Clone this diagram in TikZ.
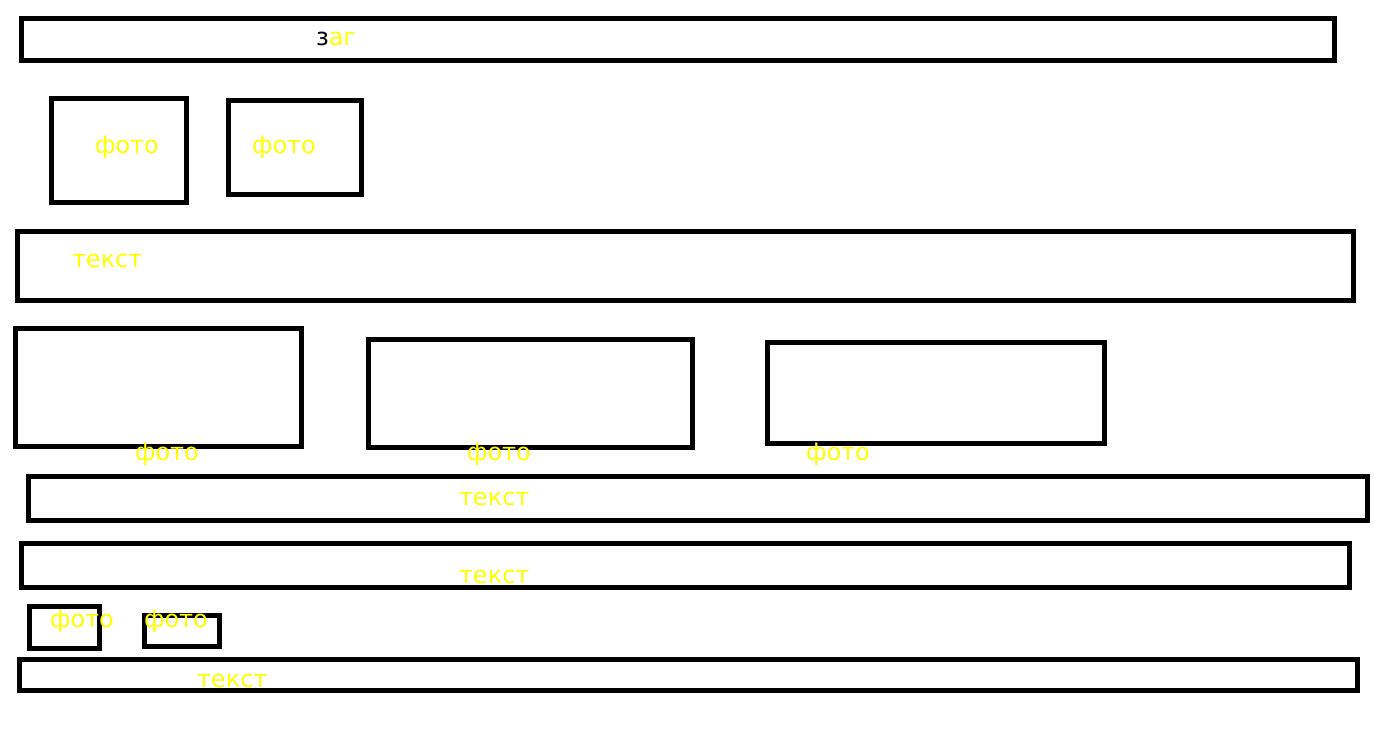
\documentclass[tikz,border=0pt]{standalone}
\usepackage{fontspec}
\setmainfont{DejaVu Sans}
\definecolor{lbl}{RGB}{255,255,0}
\begin{document}
\begin{tikzpicture}[x=1pt,y=-1pt,
  box/.style={draw=black,line width=5pt,fill=none},
  lab/.style={anchor=base west,inner sep=0pt,outer sep=0pt,text=lbl,font=\fontsize{24}{24}\selectfont}]
\useasboundingbox[fill=white] (0,0) rectangle (1374,755);
\draw[box] (21,18) rectangle (1334,60);
\draw[box] (51.5,98) rectangle (186.5,202.5);
\draw[box] (228,100) rectangle (361,194);
\draw[box] (17,231) rectangle (1353,300);
\draw[box] (15,328) rectangle (301,446);
\draw[box] (368,339) rectangle (692,447);
\draw[box] (767,342) rectangle (1104,443);
\draw[box] (28,476) rectangle (1367,520);
\draw[box] (21,543) rectangle (1349,587);
\draw[box] (29,606) rectangle (99,648);
\draw[box] (144,615) rectangle (219,646);
\draw[box] (19,659) rectangle (1357,690);
\node[lab] (t0) at (316,45) {\textcolor{black}{з}аг};
\node[lab] (f1) at (95,153) {фото};
\node[lab] (f2) at (252,153) {фото};
\node[lab] (x1) at (72,267) {текст};
\node[lab] (f3) at (135,460) {фото};
\node[lab] (f4) at (467,460) {фото};
\node[lab] (f5) at (806,460) {фото};
\node[lab] (x2) at (459,505) {текст};
\node[lab] (x3) at (459,583) {текст};
\node[lab] (f6) at (50,627) {фото};
\node[lab] (f7) at (144,627) {фото};
\node[lab] (x4) at (197,687) {текст};
\end{tikzpicture}
\end{document}
